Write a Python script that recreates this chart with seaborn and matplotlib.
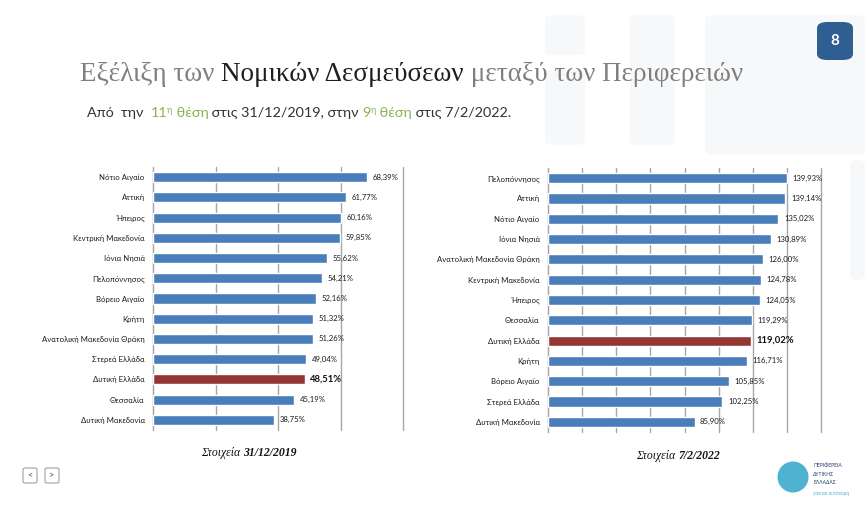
import numpy as np
import pandas as pd
import seaborn as sns
import matplotlib.pyplot as plt
from matplotlib.patches import FancyBboxPatch, Ellipse

# data
left_regions = ['Νότιο Αιγαίο', 'Αττική', 'Ήπειρος', 'Κεντρική Μακεδονία', 'Ιόνια Νησιά',
                'Πελοπόννησος', 'Βόρειο Αιγαίο', 'Κρήτη', 'Ανατολική Μακεδονία Θράκη',
                'Στερεά Ελλάδα', 'Δυτική Ελλάδα', 'Θεσσαλία', 'Δυτική Μακεδονία']
left_values = [68.39, 61.77, 60.16, 59.85, 55.62, 54.21, 52.16, 51.32, 51.26, 49.04, 48.51, 45.19, 38.75]

right_regions = ['Πελοπόννησος', 'Αττική', 'Νότιο Αιγαίο', 'Ιόνια Νησιά', 'Ανατολική Μακεδονία Θράκη',
                 'Κεντρική Μακεδονία', 'Ήπειρος', 'Θεσσαλία', 'Δυτική Ελλάδα', 'Κρήτη',
                 'Βόρειο Αιγαίο', 'Στερεά Ελλάδα', 'Δυτική Μακεδονία']
right_values = [139.93, 139.14, 135.02, 130.89, 126.00, 124.78, 124.05, 119.29, 119.02, 116.71, 105.85, 102.25, 85.90]

highlight = 'Δυτική Ελλάδα'
blue = '#4A7EBB'
red = '#943634'

sns.set_style('white')
plt.rcParams['font.family'] = ['Lato', 'DejaVu Sans']

W, H = 865, 509
fig = plt.figure(figsize=(W / 100, H / 100), dpi=100)
fig.patch.set_facecolor('white')


def fx(px):
    return px / W


def fy(py):
    return 1 - py / H


# faint background shapes (watermark)
for (x0, y0, w, h) in [(545, 15, 40, 40), (545, 70, 40, 75), (630, 15, 45, 130), (705, 15, 160, 140),
                       (850, 160, 15, 120)]:
    fig.patches.append(FancyBboxPatch((fx(x0), fy(y0 + h)), fx(w), h / H,
                                      boxstyle='round,pad=0,rounding_size=0.01',
                                      transform=fig.transFigure, fc='#F7F8F9', ec='none', zorder=-5))


def draw_chart(rect, regions, values, xmax):
    ax = fig.add_axes(rect)
    ax.patch.set_alpha(0)
    df = pd.DataFrame({'region': regions, 'value': values})
    colors = [red if r == highlight else blue for r in regions]
    sns.barplot(data=df, x='value', y='region', hue='region', palette=colors, saturation=1,
                legend=False, width=0.5, ax=ax, zorder=3)
    ax.set_xlim(0, xmax)
    ax.set_ylim(len(regions) - 0.5, -0.5)
    ax.set_xticks(np.arange(0, xmax + 1, 20))
    ax.set_xticklabels([])
    ax.tick_params(axis='x', length=3, color='#A6A6A6', direction='out')
    ax.grid(axis='x', color='#A6A6A6', lw=1, zorder=0)
    for gl in ax.get_xgridlines():
        gl.set_clip_on(False)
    ax.set_yticks(np.arange(len(regions)))
    ax.set_yticklabels(regions, fontsize=5.6, color='#1A1A1A')
    ax.set_yticks(np.arange(len(regions) + 1) - 0.5, minor=True)
    ax.tick_params(axis='y', which='major', length=0, pad=6)
    ax.tick_params(axis='y', which='minor', length=3, color='#A6A6A6')
    for s in ['top', 'right', 'bottom']:
        ax.spines[s].set_visible(False)
    ax.spines['left'].set_color('#A6A6A6')
    ax.set_xlabel('')
    ax.set_ylabel('')
    for i, (r, v) in enumerate(zip(regions, values)):
        lab = f'{v:.2f}%'.replace('.', ',')
        if r == highlight:
            ax.annotate(lab, (v, i), xytext=(4, 0), textcoords='offset points', va='center',
                        fontsize=6.8, fontweight='bold', color='#111111')
        else:
            ax.annotate(lab, (v, i), xytext=(4, 0), textcoords='offset points', va='center',
                        fontsize=5.6, color='#1A1A1A')
    return ax


draw_chart([fx(153), fy(430), fx(403) - fx(153), fy(167) - fy(430)], left_regions, left_values, 80)
draw_chart([fx(548), fy(432), fx(821) - fx(548), fy(168) - fy(432)], right_regions, right_values, 160)

renderer = fig.canvas.get_renderer()


def pieces(x, y, parts, center=False):
    # parts: list of (text, kwargs, dy_px)
    texts = []
    cur = x
    for txt, kw, dy in parts:
        t = fig.text(cur, y + dy / H, txt, va='baseline', ha='left', **kw)
        bb = t.get_window_extent(renderer)
        cur = bb.x1 / W
        texts.append(t)
    if center:
        shift = (cur - x) / 2
        for t in texts:
            px, py = t.get_position()
            t.set_position((px - shift, py))


# title
tserif = dict(family=['Liberation Serif', 'DejaVu Serif'], fontsize=19.5)
pieces(fx(80), fy(81), [
    ('Εξέλιξη των ', dict(color='#7F7F7F', **tserif), 0),
    ('Νομικών Δεσμεύσεων', dict(color='#1F1F1F', **tserif), 0),
    (' μεταξύ των Περιφερειών', dict(color='#7F7F7F', **tserif), 0),
])

# subtitle
green = '#8DB255'
sub = dict(fontsize=10.4)
pieces(fx(87), fy(117), [
    ('Από  την  ', dict(color='#333333', **sub), 0),
    ('11', dict(color=green, **sub), 0),
    ('η', dict(color=green, fontsize=6.5), 4),
    (' θέση', dict(color=green, **sub), 0),
    (' στις 31/12/2019, στην ', dict(color='#333333', **sub), 0),
    ('9', dict(color=green, **sub), 0),
    ('η', dict(color=green, fontsize=6.5), 4),
    (' θέση', dict(color=green, **sub), 0),
    (' στις 7/2/2022.', dict(color='#333333', **sub), 0),
])

# footers
fser = dict(family=['Liberation Serif', 'DejaVu Serif'], fontsize=8.5, style='italic', color='#111111')
pieces(fx(249), fy(456), [('Στοιχεία ', fser, 0), ('31/12/2019', dict(fontweight='bold', **fser), 0)], center=True)
pieces(fx(678), fy(459), [('Στοιχεία ', fser, 0), ('7/2/2022', dict(fontweight='bold', **fser), 0)], center=True)

# page number badge
fig.patches.append(FancyBboxPatch((fx(817), fy(60)), fx(36), 38 / H,
                                  boxstyle='round,pad=0,rounding_size=0.012',
                                  transform=fig.transFigure, fc='#2F5E92', ec='none', zorder=2))
fig.text(fx(835), fy(41), '8', color='white', fontsize=11, fontweight='bold', ha='center', va='center')

# nav buttons
for x0, ch in [(23, '<'), (45, '>')]:
    fig.patches.append(FancyBboxPatch((fx(x0), fy(483)), fx(14), 15 / H,
                                      boxstyle='round,pad=0,rounding_size=0.003',
                                      transform=fig.transFigure, fc='white', ec='#A0A0A0', lw=0.8))
    fig.text(fx(x0 + 7), fy(475.5), ch, color='#555555', fontsize=6.5, ha='center', va='center')

# logo
fig.patches.append(Ellipse((fx(793), fy(477)), fx(31), 31 / H, transform=fig.transFigure,
                           fc='#4DB3D1', ec='none'))
for i, line in enumerate(['ΠΕΡΙΦΕΡΕΙΑ', 'ΔΥΤΙΚΗΣ', 'ΕΛΛΑΔΑΣ']):
    fig.text(fx(813), fy(468 + i * 8), line, fontsize=3.6, color='#1F3F66', va='baseline')
fig.text(fx(813), fy(495), 'γίνεται αυτόνομη', fontsize=3.6, color='#4DB3D1', style='italic', va='baseline')

fig.savefig('out.png', dpi=100)
